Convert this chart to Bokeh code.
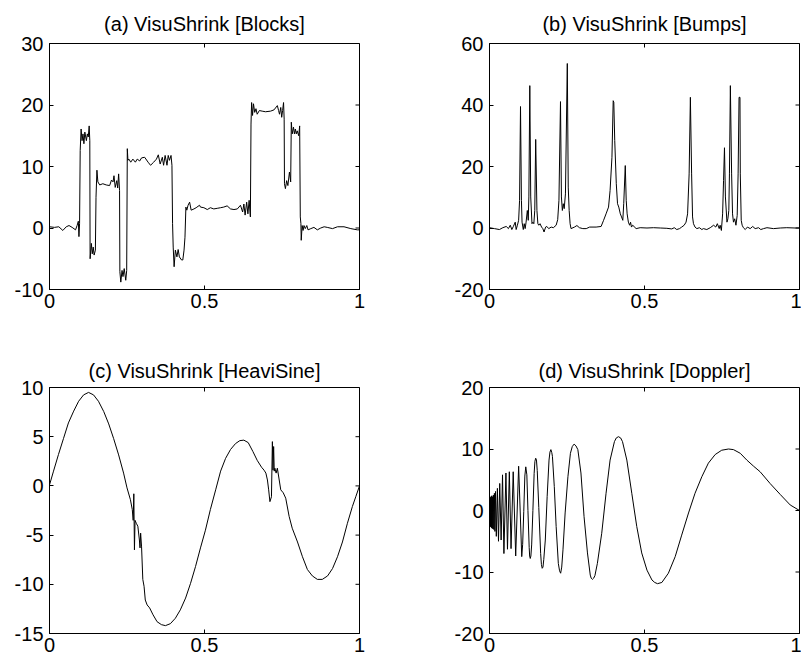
import math
from bokeh.plotting import figure
from bokeh.models import Range1d, FixedTicker, LinearAxis
from bokeh.layouts import column, row
from bokeh.embed import file_html
from bokeh.resources import INLINE

FONT = "Liberation Sans"

# ---------------- data ----------------
x_ticks = [0, 0.5, 1]
x_tick_labels = ["0", "0.5", "1"]
x_limits = (0, 1)

blocks_yticks = [-10, 0, 10, 20, 30]
blocks_ylabels = ["-10", "0", "10", "20", "30"]
bumps_yticks = [-20, 0, 20, 40, 60]
bumps_ylabels = ["-20", "0", "20", "40", "60"]
heavisine_yticks = [-15, -10, -5, 0, 5, 10]
heavisine_ylabels = ["-15", "-10", "-5", "0", "5", "10"]
doppler_yticks = [-20, -10, 0, 10, 20]
doppler_ylabels = ["-20", "-10", "0", "10", "20"]

blocks = [
    (0.000, 0.2), (0.016, 0.1), (0.030, 0.2), (0.043, -0.4), (0.054, 0.2), (0.063, 0.4),
    (0.073, 0.1), (0.084, -0.3), (0.089, 0.4), (0.093, 1.1), (0.095, -1.4), (0.097, 0.7),
    (0.099, 12.6), (0.102, 16.1), (0.105, 14.2), (0.108, 15.3), (0.111, 13.7), (0.114, 15.6),
    (0.119, 14.2), (0.122, 15.3), (0.125, 14.8), (0.128, 16.6), (0.130, 14.2), (0.131, -5.0),
    (0.135, -2.5), (0.138, -4.2), (0.141, -3.1), (0.144, -4.4), (0.148, -3.6), (0.150, 5.0),
    (0.153, 9.4), (0.156, 7.5), (0.162, 7.0), (0.172, 7.2), (0.183, 7.0), (0.194, 6.9),
    (0.200, 7.8), (0.205, 7.5), (0.208, 8.5), (0.212, 6.6), (0.217, 7.7), (0.220, 6.5),
    (0.223, 8.8), (0.226, 6.1), (0.227, -7.1), (0.230, -8.8), (0.234, -6.9), (0.237, -7.9),
    (0.241, -6.6), (0.246, -8.5), (0.249, -6.9), (0.251, 12.9), (0.253, 11.0), (0.256, 11.2),
    (0.262, 10.7), (0.269, 11.2), (0.277, 10.7), (0.283, 11.2), (0.291, 10.9), (0.297, 11.4),
    (0.307, 11.5), (0.318, 10.7), (0.326, 10.2), (0.336, 10.7), (0.345, 11.2), (0.351, 11.9),
    (0.357, 10.4), (0.364, 11.5), (0.368, 10.2), (0.373, 11.8), (0.379, 10.2), (0.383, 11.8),
    (0.387, 11.0), (0.392, 11.8), (0.395, 10.2), (0.397, 0.7), (0.399, -3.1), (0.402, -6.3),
    (0.406, -3.6), (0.411, -4.7), (0.415, -3.5), (0.419, -4.7), (0.426, -5.2), (0.430, -5.2),
    (0.434, -3.6), (0.437, -1.5), (0.440, 3.4), (0.443, 2.9), (0.447, 3.7), (0.452, 4.2),
    (0.457, 2.9), (0.466, 3.1), (0.473, 3.3), (0.484, 3.7), (0.487, 3.4), (0.498, 3.3),
    (0.509, 3.0), (0.519, 3.3), (0.530, 3.1), (0.541, 3.2), (0.552, 3.3), (0.562, 3.4),
    (0.573, 3.6), (0.584, 3.1), (0.595, 3.0), (0.606, 3.1), (0.616, 3.7), (0.623, 2.6),
    (0.627, 3.9), (0.631, 2.1), (0.636, 4.2), (0.640, 2.3), (0.644, 4.5), (0.648, 1.8),
    (0.650, 16.9), (0.652, 20.4), (0.655, 18.3), (0.658, 20.2), (0.662, 18.8), (0.666, 19.4),
    (0.670, 18.5), (0.677, 19.1), (0.686, 19.0), (0.697, 18.9), (0.713, 19.0), (0.724, 19.2),
    (0.735, 19.9), (0.739, 19.1), (0.742, 18.5), (0.746, 19.6), (0.749, 18.0), (0.752, 19.1),
    (0.755, 20.4), (0.757, 17.7), (0.758, 7.2), (0.761, 6.4), (0.765, 7.7), (0.769, 6.9),
    (0.774, 9.1), (0.778, 7.5), (0.780, 17.2), (0.783, 15.3), (0.787, 16.4), (0.790, 15.3),
    (0.793, 16.1), (0.796, 15.3), (0.799, 15.8), (0.804, 15.0), (0.807, 16.6), (0.809, 1.8),
    (0.811, 0.7), (0.812, -2.0), (0.815, 0.4), (0.818, -0.4), (0.821, 0.4), (0.825, -0.1),
    (0.830, 0.4), (0.834, -0.3), (0.843, -0.1), (0.853, 0.1), (0.864, -0.3), (0.875, 0.0),
    (0.886, 0.2), (0.896, 0.1), (0.913, -0.1), (0.929, 0.2), (0.950, 0.2), (0.972, -0.1),
    (0.993, -0.3), (1.000, -0.3),
]

bumps = [
    (0.000, 0.1), (0.016, -0.2), (0.032, -0.5), (0.043, 0.1), (0.054, 0.5), (0.061, -0.2),
    (0.067, 0.9), (0.072, -0.5), (0.077, 0.5), (0.083, 1.9), (0.086, -0.5), (0.090, 0.9),
    (0.094, 2.5), (0.097, 9.0), (0.100, 39.5), (0.103, 9.0), (0.105, 1.9), (0.109, -0.5),
    (0.112, 1.4), (0.115, -0.2), (0.118, 1.9), (0.122, 5.7), (0.125, 2.5), (0.127, 10.1),
    (0.130, 46.3), (0.133, 10.1), (0.137, 1.4), (0.140, 1.9), (0.143, 1.4), (0.146, 5.7),
    (0.149, 28.8), (0.153, 5.7), (0.156, 1.4), (0.159, 0.9), (0.163, 1.4), (0.168, 0.3),
    (0.172, -0.2), (0.176, -1.3), (0.181, 0.3), (0.185, 0.5), (0.191, -0.2), (0.199, 0.3),
    (0.206, 0.1), (0.215, 0.9), (0.220, 2.7), (0.224, 9.0), (0.229, 41.1), (0.232, 10.1),
    (0.235, 5.7), (0.238, 7.9), (0.241, 6.3), (0.245, 11.1), (0.251, 53.5), (0.254, 13.3),
    (0.257, 5.7), (0.260, 1.4), (0.263, -0.2), (0.274, 0.3), (0.282, 0.8), (0.290, 0.1),
    (0.301, -0.2), (0.312, -0.2), (0.323, 0.3), (0.344, 0.3), (0.360, 0.5), (0.368, 2.5),
    (0.376, 4.6), (0.384, 6.8), (0.389, 12.2), (0.395, 23.0), (0.399, 41.4), (0.401, 40.9),
    (0.404, 28.4), (0.409, 14.4), (0.413, 7.9), (0.417, 6.8), (0.422, 4.6), (0.426, 3.6),
    (0.430, 2.5), (0.433, 7.9), (0.438, 20.3), (0.441, 9.0), (0.444, 4.6), (0.448, 1.9),
    (0.452, 0.9), (0.455, 1.9), (0.458, 0.3), (0.462, 0.9), (0.473, -0.2), (0.486, 0.1),
    (0.508, 0.0), (0.529, 0.1), (0.551, 0.0), (0.572, -0.1), (0.588, -0.3), (0.596, 0.1),
    (0.604, -0.5), (0.613, -0.2), (0.620, 0.3), (0.628, 0.9), (0.634, 1.9), (0.639, 4.6),
    (0.644, 17.6), (0.648, 42.5), (0.652, 17.6), (0.655, 3.6), (0.658, 1.4), (0.663, 0.3),
    (0.669, -0.2), (0.677, 0.1), (0.685, -0.5), (0.690, -0.2), (0.701, -0.5), (0.712, 0.1),
    (0.723, 0.9), (0.730, 0.3), (0.735, 1.4), (0.741, -0.2), (0.744, 0.9), (0.748, -0.8),
    (0.752, 4.6), (0.755, 15.5), (0.758, 26.1), (0.761, 10.1), (0.766, 1.9), (0.769, 3.0),
    (0.772, 5.7), (0.774, 17.6), (0.777, 46.3), (0.781, 17.6), (0.784, 4.6), (0.787, 1.9),
    (0.791, 3.0), (0.795, 0.9), (0.799, 4.1), (0.802, 17.6), (0.805, 42.5), (0.808, 42.5),
    (0.809, 17.6), (0.812, 2.5), (0.815, 0.9), (0.819, 0.1), (0.825, -0.5), (0.832, 0.3),
    (0.841, -0.2), (0.849, 0.5), (0.857, -0.2), (0.868, 0.1), (0.875, -0.5), (0.884, -0.2),
    (0.895, 0.1), (0.916, -0.2), (0.938, 0.0), (0.959, 0.1), (0.986, 0.0), (1.000, 0.0),
]

heavisine = [
    (0.000, 0.1), (0.013, 1.5), (0.029, 3.2), (0.045, 4.8), (0.061, 6.4), (0.078, 7.6),
    (0.094, 8.6), (0.110, 9.25), (0.126, 9.5), (0.142, 9.25), (0.158, 8.6), (0.175, 7.55),
    (0.191, 6.3), (0.207, 4.8), (0.223, 3.15), (0.239, 1.3), (0.250, -0.2), (0.261, -1.4),
    (0.267, -2.4), (0.270, -3.5), (0.272, -0.8), (0.274, -6.5), (0.276, -3.5), (0.280, -3.8),
    (0.285, -4.1), (0.290, -5.5), (0.292, -6.3), (0.294, -4.8), (0.297, -6.2), (0.301, -9.5),
    (0.305, -10.2), (0.309, -11.6), (0.315, -12.1), (0.323, -12.4), (0.334, -13.1),
    (0.347, -13.8), (0.361, -14.1), (0.374, -14.2), (0.390, -14.0), (0.406, -13.45),
    (0.422, -12.6), (0.439, -11.4), (0.455, -9.9), (0.471, -8.2), (0.487, -6.3), (0.503, -4.5),
    (0.519, -2.4), (0.536, -0.4), (0.552, 1.5), (0.568, 2.8), (0.584, 3.7), (0.600, 4.3),
    (0.614, 4.6), (0.627, 4.65), (0.641, 4.4), (0.656, 3.5), (0.670, 2.6), (0.684, 1.9),
    (0.692, 1.6), (0.698, 1.3), (0.703, 0.6), (0.707, -0.4), (0.711, -1.6), (0.716, -1.1),
    (0.719, 4.5), (0.721, 1.6), (0.723, 4.0), (0.725, 1.5), (0.727, 1.8), (0.731, 1.3),
    (0.735, 1.8), (0.740, 0.8), (0.746, -0.4), (0.754, -0.7), (0.762, -1.25), (0.773, -3.1),
    (0.783, -4.3), (0.800, -5.7), (0.816, -7.2), (0.832, -8.5), (0.848, -9.15), (0.864, -9.5),
    (0.880, -9.5), (0.897, -9.15), (0.913, -8.4), (0.929, -7.2), (0.945, -5.7), (0.961, -3.8),
    (0.977, -2.1), (0.988, -1.1), (1.000, 0.0),
]

doppler = [
    (0.000, 0.0), (0.0008, 1.8), (0.0015, -2.4), (0.0022, 2.2), (0.0030, -2.6), (0.0038, 2.0),
    (0.0047, -2.7), (0.0056, 2.3), (0.0066, -2.8), (0.0077, 2.4), (0.0088, -2.9), (0.0100, 2.2),
    (0.0113, -3.0), (0.0127, 2.5), (0.0142, -3.1), (0.0158, 2.8), (0.0175, -3.4), (0.0195, 3.1),
    (0.022, -4.2), (0.0255, 3.6), (0.029, -5.0), (0.033, 4.4), (0.0375, -4.8), (0.042, 5.8),
    (0.0465, -7.0), (0.053, 6.1), (0.058, -6.3), (0.064, 6.3), (0.0695, -6.2), (0.0765, 6.3),
    (0.0845, -7.4), (0.094, 7.2), (0.104, -7.5), (0.107, -5.5), (0.1105, -0.2), (0.114, 5.6),
    (0.117, 7.1), (0.1205, 5.8), (0.124, 0.0), (0.128, -6.0), (0.1295, -7.4), (0.1315, -7.8),
    (0.1335, -7.4), (0.136, -5.6), (0.140, 0.0), (0.144, 6.0), (0.1465, 8.0), (0.149, 8.5),
    (0.1515, 8.2), (0.154, 6.5), (0.159, 0.5), (0.165, -7.0), (0.1675, -8.8), (0.170, -9.4),
    (0.1725, -9.2), (0.175, -8.0), (0.180, -4.8), (0.186, 2.3), (0.192, 8.2), (0.195, 9.5),
    (0.198, 9.9), (0.201, 9.4), (0.203, 8.8), (0.209, 3.9), (0.215, -2.6), (0.222, -8.6),
    (0.226, -9.8), (0.2295, -10.2), (0.233, -9.2), (0.237, -6.4), (0.244, -0.4), (0.253, 5.5),
    (0.261, 9.3), (0.267, 10.4), (0.273, 10.8), (0.279, 10.5), (0.285, 9.9), (0.295, 6.1),
    (0.305, -1.0), (0.316, -6.9), (0.325, -10.5), (0.328, -11.0), (0.332, -11.2),
    (0.336, -11.0), (0.340, -10.6), (0.348, -8.6), (0.362, -3.7), (0.376, 2.8), (0.389, 8.2),
    (0.403, 11.2), (0.409, 11.8), (0.416, 12.0), (0.423, 11.8), (0.429, 11.2), (0.443, 8.2),
    (0.459, 2.8), (0.475, -2.6), (0.491, -6.9), (0.508, -9.7), (0.524, -11.3), (0.533, -11.7),
    (0.542, -11.9), (0.556, -11.7), (0.577, -10.2), (0.599, -7.5), (0.620, -4.0),
    (0.642, -0.4), (0.663, 2.8), (0.685, 5.5), (0.706, 7.7), (0.728, 9.1), (0.749, 9.8),
    (0.771, 10.0), (0.787, 9.9), (0.809, 9.3), (0.830, 8.2), (0.852, 7.2), (0.873, 6.3),
    (0.905, 4.4), (0.938, 2.6), (0.970, 0.9), (1.000, 0.0),
]


def style_axis(ax):
    ax.axis_line_color = "black"
    ax.axis_line_width = 1
    ax.major_tick_line_color = "black"
    ax.major_tick_in = 4
    ax.major_tick_out = 0
    ax.minor_tick_line_color = None
    ax.major_label_text_font = FONT
    ax.major_label_text_color = "black"
    ax.major_label_text_font_size = "20px"


def panel(title, pts, yticks, ylabels, yrange, width, height, left, right, top, bottom,
          title_standoff):
    p = figure(width=width, height=height, output_backend="svg", toolbar_location=None,
               x_range=Range1d(*x_limits), y_range=Range1d(*yrange),
               x_axis_type=None, y_axis_type=None,
               min_border_left=left, min_border_right=right,
               min_border_top=top, min_border_bottom=bottom)
    p.background_fill_color = "white"
    p.border_fill_color = "white"
    p.outline_line_color = "black"
    p.outline_line_width = 1

    xb = LinearAxis(ticker=FixedTicker(ticks=x_ticks),
                    major_label_overrides=dict(zip(x_ticks, x_tick_labels)))
    style_axis(xb)
    xb.major_label_standoff = 4
    p.add_layout(xb, "below")

    yl = LinearAxis(ticker=FixedTicker(ticks=yticks),
                    major_label_overrides=dict(zip(yticks, ylabels)))
    style_axis(yl)
    yl.major_label_standoff = 6
    p.add_layout(yl, "left")

    # mirrored inward ticks on the top and right edges (half of each dash is clipped)
    p.scatter(x=x_ticks, y=[yrange[1]] * len(x_ticks), marker="dash", angle=math.pi / 2,
              size=8, line_color="black", line_width=1)
    p.scatter(x=[x_limits[1]] * len(yticks), y=yticks, marker="dash",
              size=8, line_color="black", line_width=1)

    xs = [a for a, b in pts]
    ys = [b for a, b in pts]
    p.line(xs, ys, line_color="black", line_width=1)

    p.title.text = title
    p.title.align = "center"
    p.title.text_font = FONT
    p.title.text_font_size = "20px"
    p.title.text_font_style = "normal"
    p.title.text_color = "black"
    p.title.standoff = title_standoff
    return p


pa = panel("(a) VisuShrink [Blocks]", blocks, blocks_yticks, blocks_ylabels, (-10, 30),
           400, 330, 49, 41, 43, 41, 18)
pb = panel("(b) VisuShrink [Bumps]", bumps, bumps_yticks, bumps_ylabels, (-20, 60),
           401, 330, 89, 2, 43, 41, 18)
pc = panel("(c) VisuShrink [HeaviSine]", heavisine, heavisine_yticks, heavisine_ylabels, (-15, 10),
           400, 330, 57, 41, 57, 27, 11)
pc.min_border_left = 49
pd = panel("(d) VisuShrink [Doppler]", doppler, doppler_yticks, doppler_ylabels, (-20, 20),
           401, 330, 89, 2, 57, 27, 11)

layout = column(row(pa, pb), row(pc, pd))

with open("out.html", "w") as f:
    f.write(file_html(layout, INLINE))
